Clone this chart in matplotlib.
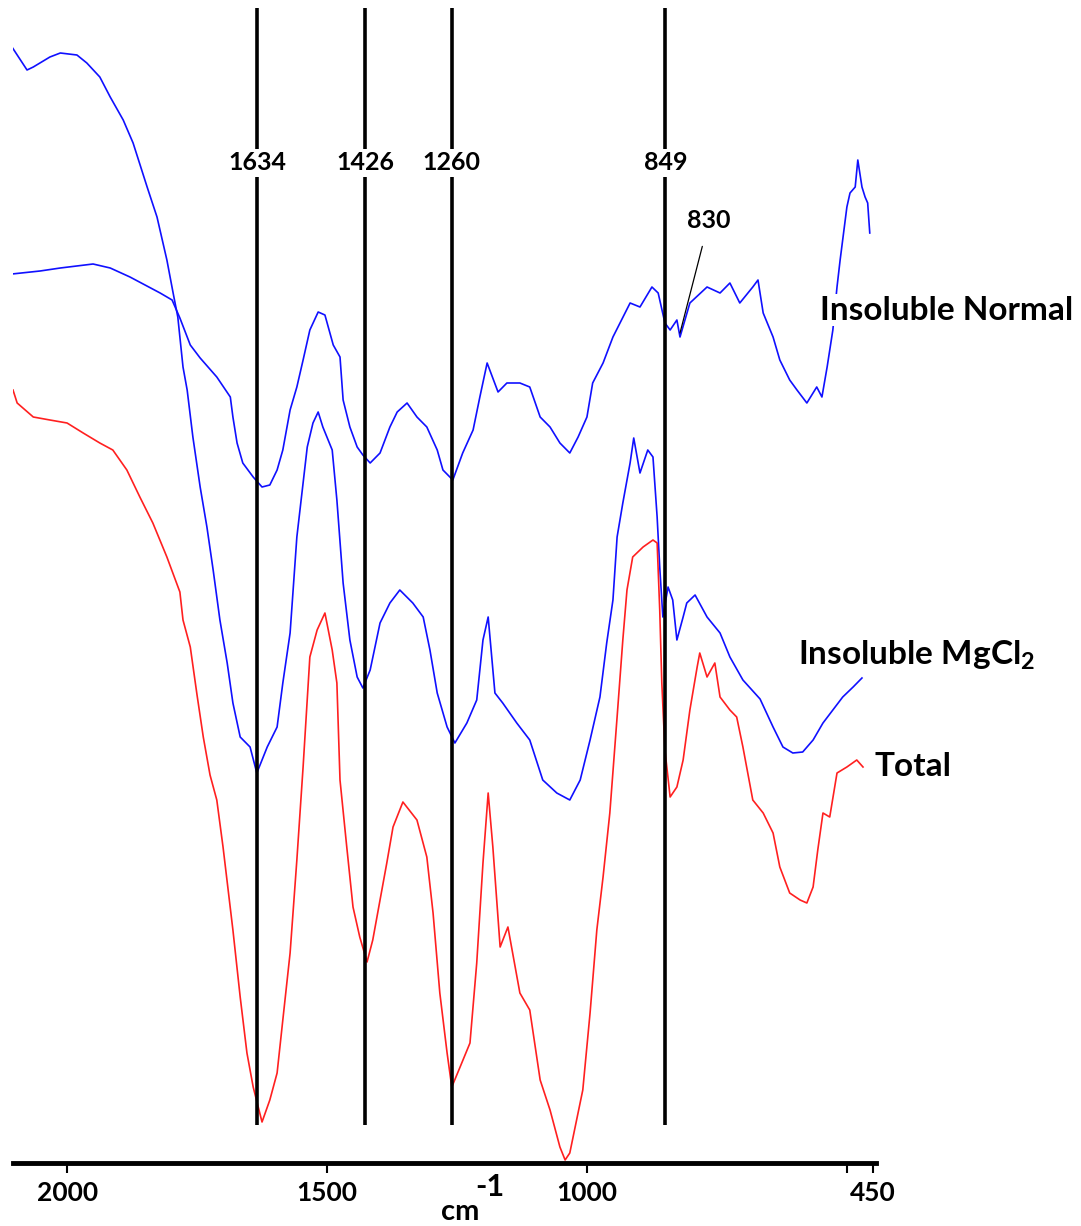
import matplotlib
matplotlib.use('Agg')
import matplotlib.pyplot as plt

plt.rcParams['font.family'] = ['Lato', 'DejaVu Sans']
plt.rcParams['mathtext.fontset'] = 'custom'
plt.rcParams['mathtext.rm'] = 'Lato:bold'
plt.rcParams['mathtext.it'] = 'Lato:bold'
plt.rcParams['mathtext.bf'] = 'Lato:bold'

# wavenumber (cm-1) and offset intensity (a.u.)
normal_x = [2106, 2052, 2013, 1950, 1917, 1879, 1850, 1821, 1798, 1783, 1763, 1744,
            1712, 1686, 1681, 1673, 1662, 1642, 1625, 1610, 1596, 1585, 1571, 1558,
            1546, 1533, 1517, 1504, 1488, 1475, 1469, 1456, 1442, 1431, 1417, 1398,
            1379, 1365, 1346, 1327, 1308, 1288, 1277, 1258, 1239, 1219, 1206, 1192,
            1171, 1154, 1129, 1110, 1090, 1071, 1052, 1033, 1017, 1000, 989, 969,
            950, 917, 898, 875, 863, 850, 840, 827, 821, 802, 769, 744, 725, 706,
            681, 671, 661, 642, 629, 610, 596, 577, 558, 548, 538, 527, 519, 513,
            500, 494, 484, 479, 471, 465, 460, 456]
normal_y = [889, 892, 895, 899, 895, 886, 878, 870, 863, 845, 818, 805,
            786, 766, 746, 720, 700, 686, 676, 678, 693, 713, 753, 776,
            803, 833, 851, 848, 818, 806, 763, 736, 716, 708, 700, 710,
            736, 751, 760, 746, 736, 713, 693, 683, 710, 733, 766, 800,
            771, 780, 780, 776, 746, 736, 720, 710, 726, 746, 780, 800,
            826, 860, 856, 876, 870, 840, 833, 843, 826, 860, 876, 870, 880, 860,
            876, 883, 850, 826, 803, 783, 773, 760, 776, 766, 796, 833, 876, 903,
            956, 970, 976, 1003, 976, 966, 960, 930]

mgcl2_x = [2106, 2077, 2065, 2033, 2013, 1981, 1962, 1937, 1917, 1892, 1873, 1846,
           1827, 1808, 1796, 1787, 1777, 1769, 1758, 1744, 1731, 1719, 1706, 1692,
           1681, 1667, 1648, 1635, 1615, 1596, 1585, 1571, 1558, 1546, 1538, 1527,
           1517, 1508, 1490, 1481, 1469, 1456, 1442, 1431, 1417, 1398, 1379, 1360,
           1335, 1315, 1302, 1288, 1269, 1254, 1231, 1212, 1200, 1190, 1177, 1162,
           1135, 1110, 1085, 1058, 1033, 1013, 994, 975, 962, 950, 942, 931,
           917, 910, 898, 883, 873, 865, 860, 854, 844, 835, 827, 815,
           808, 792, 769, 744, 725, 700, 667, 642, 623, 604, 585, 565,
           546, 527, 508, 488, 471]
mgcl2_y = [1116, 1093, 1096, 1106, 1110, 1108, 1100, 1086, 1066, 1043, 1020, 976,
           946, 903, 870, 846, 796, 773, 726, 676, 636, 593, 543, 500,
           460, 426, 416, 390, 416, 436, 480, 530, 626, 680, 716, 740,
           751, 736, 713, 663, 580, 523, 486, 475, 493, 540, 560, 573,
           560, 546, 513, 470, 436, 420, 440, 463, 523, 546, 470, 460,
           440, 423, 383, 370, 363, 383, 423, 466, 520, 563, 626, 660,
           700, 725, 690, 713, 706, 646, 596, 546, 576, 563, 523, 546,
           560, 568, 546, 530, 506, 483, 464, 436, 416, 410, 411, 423,
           440, 453, 466, 476, 485]

total_x = [2104, 2096, 2065, 2033, 2000, 1969, 1937, 1912, 1885, 1860, 1835, 1808,
           1783, 1777, 1763, 1750, 1738, 1725, 1712, 1700, 1681, 1667, 1654, 1642,
           1625, 1610, 1596, 1585, 1571, 1558, 1546, 1533, 1519, 1504, 1490, 1481,
           1475, 1462, 1450, 1437, 1423, 1412, 1398, 1385, 1373, 1354, 1327, 1308,
           1296, 1283, 1269, 1260, 1244, 1225, 1212, 1200, 1190, 1181, 1167, 1152,
           1129, 1110, 1090, 1071, 1052, 1042, 1033, 1008, 994, 981, 969, 956,
           942, 931, 923, 912, 892, 873, 865, 860, 856, 850, 840, 827,
           815, 802, 788, 783, 769, 754, 744, 725, 712, 700, 681, 661,
           642, 629, 610, 590, 577, 565, 556, 546, 533, 519, 500, 481, 469]
total_y = [773, 760, 746, 743, 740, 730, 720, 713, 693, 666, 640, 606,
           571, 543, 516, 468, 426, 388, 363, 316, 233, 166, 110, 76,
           41, 63, 90, 143, 210, 303, 396, 506, 533, 550, 513, 480,
           383, 316, 256, 226, 201, 223, 263, 300, 336, 361, 343, 306,
           250, 170, 110, 76, 96, 120, 200, 300, 370, 316, 216, 236,
           170, 153, 83, 53, 16, 3, 10, 73, 150, 233, 286, 350,
           446, 523, 573, 606, 616, 623, 620, 553, 480, 413, 366, 376,
           403, 453, 496, 510, 486, 500, 466, 453, 446, 416, 363, 350,
           330, 296, 270, 263, 260, 276, 313, 350, 346, 390, 396, 403, 396]

peaks = [1634, 1426, 1260, 849]
tick_pos = [2000, 1500, 1000, 500, 450]
tick_txt = ['2000', '1500', '1000', '', '450']

fig = plt.figure(figsize=(10.81, 12.26), dpi=100)
ax = fig.add_axes([13 / 1081, 1 - 1163 / 1226, 863 / 1081, 1163 / 1226])

ax.plot(normal_x, normal_y, color='#1010ff', lw=1.2)
ax.plot(mgcl2_x, mgcl2_y, color='#1010ff', lw=1.2)
ax.plot(total_x, total_y, color='#ff2020', lw=1.2)

ax.vlines(peaks, 38, 1155, color='black', lw=2.6, zorder=3)
for p in peaks:
    ax.text(p, 1000, str(p), ha='center', va='center', fontsize=18, fontweight='bold',
            bbox=dict(facecolor='white', edgecolor='none', pad=2), zorder=4)

ax.annotate('830', xy=(821, 830), xytext=(765, 943), fontsize=18, fontweight='bold',
            ha='center', va='center',
            arrowprops=dict(arrowstyle='-', lw=0.9, color='black', shrinkA=9, shrinkB=0))

ax.text(552, 853, 'Insoluble Normal', fontsize=24, fontweight='bold', va='center',
        bbox=dict(facecolor='white', edgecolor='none', pad=1), zorder=4)
ax.text(594, 508, r'Insoluble MgCl$_{2}$', fontsize=24, fontweight='bold', va='center',
        bbox=dict(facecolor='white', edgecolor='none', pad=1), zorder=4)
ax.text(446, 397, 'Total', fontsize=24, fontweight='bold', va='center')

ax.set_xlim(2104, 444)
ax.set_ylim(0, 1163)
for s in ['top', 'left', 'right']:
    ax.spines[s].set_visible(False)
ax.spines['bottom'].set_linewidth(3.5)
ax.set_yticks([])
ax.set_xticks(tick_pos)
ax.set_xticklabels(tick_txt, fontsize=19, fontweight='bold')
ax.tick_params(axis='x', direction='out', length=7, width=1.5, pad=6)

# axis unit: "cm" with a large "-1" set above it, as in the original
ax.text(1187, -24, '-1', fontsize=22, fontweight='bold', ha='center', va='center',
        clip_on=False)
ax.text(1243, -49, 'cm', fontsize=21, fontweight='bold', ha='center', va='center',
        clip_on=False)

fig.savefig('out.png', dpi=100)
